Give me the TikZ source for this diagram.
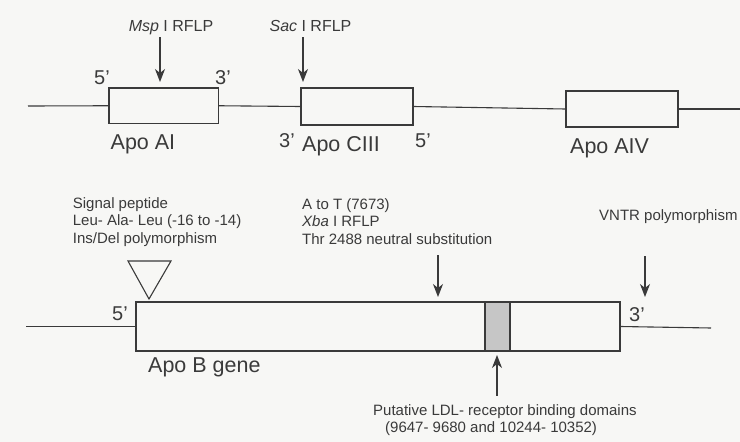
\documentclass[tikz,border=0pt]{standalone}
\usepackage{fontspec}
\setmainfont{Liberation Sans}
\definecolor{GeneInk}{HTML}{3A3A3A}
\definecolor{PaperTone}{HTML}{F7F7F5}
\definecolor{DomainGray}{HTML}{C6C6C6}
\usepackage{tikz}
\usetikzlibrary{positioning,arrows.meta}

\begin{document}
\begin{tikzpicture}[x=1pt, y=-1pt,
  genebox/.style={draw=GeneInk, line width=1.1pt, inner sep=0pt},
  dnaline/.style={draw=GeneInk, line width=1.1pt},
  site/.style={draw=GeneInk, line width=1.2pt, -{Stealth[length=13pt,width=10pt,inset=4pt]}},
  genelabel/.style={text=GeneInk, inner sep=0pt, anchor=base west, font=\fontsize{21.5}{21.5}\selectfont},
  endlabel/.style={text=GeneInk, inner sep=0pt, anchor=base west, font=\fontsize{20}{20}\selectfont},
  sitelabel/.style={text=GeneInk, inner sep=0pt, anchor=base, font=\fontsize{16}{16}\selectfont},
  notelabel/.style={text=GeneInk, inner sep=0pt, align=left, font=\fontsize{15}{17.5}\selectfont}]
  % page
  \fill[PaperTone] (0,0) rectangle (740,442);
  \useasboundingbox (0,0) rectangle (740,442);

  % Apo AI - CIII - AIV cluster
  \foreach \name/\cx/\cy/\w/\h in {apoAI/163.75/105.75/109.5/35.5,
    apoCIII/357/106.5/112/37, apoAIV/622/109/112/36}{
    \node[genebox, minimum width=\w pt, minimum height=\h pt] (\name) at (\cx,\cy) {};
  }
  \coordinate (clusterleft) at (28,106);
  \coordinate (clusterright) at (740,109);
  \draw[dnaline] (clusterleft) -- (apoAI.west);
  \draw[dnaline] (apoAI.east) -- (apoCIII.west);
  \draw[dnaline] (apoCIII.east) -- (apoAIV.west);
  \draw[dnaline] (apoAIV.east) -- (clusterright);

  % cluster labels
  \foreach \name/\x/\y/\txt in {fiveAI/94/84/5’, threeAI/215/84/3’,
    threeCIII/279/147/3’, fiveCIII/415/147/5’}{
    \node[endlabel] (\name) at (\x,\y) {\txt};
  }
  \foreach \name/\x/\y/\txt in {labAI/110.5/149/Apo AI,
    labCIII/302/151/Apo CIII, labAIV/570/153/Apo AIV}{
    \node[genelabel] (\name) at (\x,\y) {\txt};
  }
  \node[sitelabel] (msp) at (171,31) {\textit{Msp} I RFLP};
  \node[sitelabel] (sac) at (310.5,31) {\textit{Sac} I RFLP};
  \coordinate (mspsite) at (160,82);
  \coordinate (sacsite) at (303,82);
  \draw[site, shorten <=2.5pt] (msp.south -| mspsite) -- (mspsite);
  \draw[site, shorten <=6pt] (sac.south -| sacsite) -- (sacsite);

  % Apo B gene
  \node[genebox, minimum width=484pt, minimum height=49pt] (apoB) at (378,326.5) {};
  \node[genebox, fill=DomainGray, minimum width=25pt, minimum height=49pt] (ldlbox) at (497.5,326.5) {};
  \coordinate (bleft) at (26,326.5);
  \coordinate (bright) at (711,328);
  \draw[dnaline] (bleft) -- (apoB.west);
  \draw[dnaline] (apoB.east) -- (bright);
  \node[endlabel] (fiveB) at (112,320) {5’};
  \node[endlabel] (threeB) at (629,321) {3’};
  \node[genelabel] (labB) at (148,372) {Apo B gene};

  % insertion/deletion triangle
  \coordinate (insdel) at (149,299);
  \draw[draw=GeneInk, line width=1.1pt, line join=miter] (128,261) -- (171,261) -- (insdel) -- cycle;

  % notes
  \node[notelabel, anchor=north west] (signal) at (72.7,197) {Signal peptide\\Leu- Ala- Leu (-16 to -14)\\Ins/Del polymorphism};
  \node[notelabel, anchor=north west] (atot) at (302,198) {A to T (7673)\\\textit{Xba} I RFLP\\Thr 2488 neutral substitution};
  \node[notelabel, anchor=base west] (vntr) at (599,220) {VNTR polymorphism};
  \node[notelabel, anchor=base west] (ldl) at (373,415) {Putative LDL- receptor binding domains};
  \node[notelabel, anchor=base west] (ldlpos) at (385,432) {(9647- 9680 and 10244- 10352)};

  % site arrows
  \coordinate (xbasite) at (438,297);
  \coordinate (vntrsite) at (645,297);
  \coordinate (ldlsite) at (497,355);
  \draw[site, shorten <=11pt] (atot.south -| xbasite) -- (xbasite);
  \draw[site, shorten <=33pt] (vntr.south -| vntrsite) -- (vntrsite);
  \draw[site, shorten <=8pt] (ldl.north -| ldlsite) -- (ldlsite);
\end{tikzpicture}
\end{document}
